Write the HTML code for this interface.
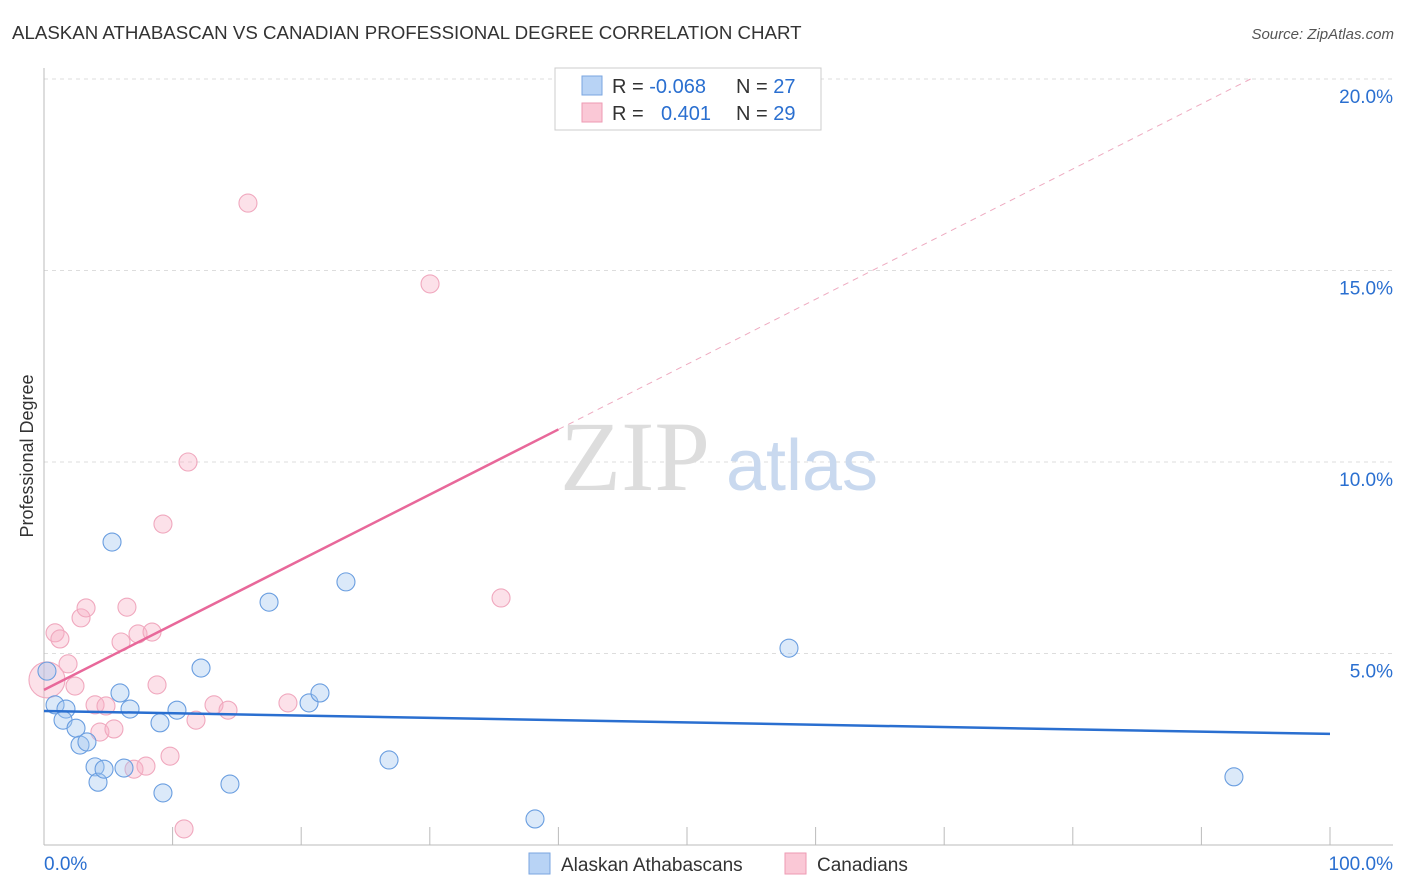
<!DOCTYPE html>
<html><head><meta charset="utf-8"><style>
body{margin:0;background:#fff;font-family:"Liberation Sans",sans-serif}
svg{display:block}
</style></head><body>
<svg width="1406" height="892" xmlns="http://www.w3.org/2000/svg">
<text x="12" y="39" font-size="18.7" fill="#333">ALASKAN ATHABASCAN VS CANADIAN PROFESSIONAL DEGREE CORRELATION CHART</text>
<text x="1394" y="39" font-size="15" fill="#555" font-style="italic" text-anchor="end">Source: ZipAtlas.com</text>
<text x="33" y="456" font-size="18" fill="#333" text-anchor="middle" transform="rotate(-90 33 456)">Professional Degree</text>
<g id="grid"></g>
<g id="axes"></g>
<text x="635" y="490" font-size="100" fill="#ddd" font-family="Liberation Serif,serif" text-anchor="middle">ZIP</text>
<text x="802" y="490" font-size="72" fill="#c9d9ef" text-anchor="middle">atlas</text>
<g id="pts"></g>
<g id="lines"></g>
<g>
<rect x="555" y="68" width="266" height="62" fill="#fff" stroke="#ccc"/>
<rect x="582" y="76" width="20" height="19" fill="#b8d3f5" stroke="#7aa6e0"/>
<rect x="582" y="103" width="20" height="19" fill="#fac8d6" stroke="#ee9ab3"/>
<text x="612" y="93" font-size="20" fill="#333">R = <tspan fill="#2a6fd0">-0.068</tspan></text>
<text x="736" y="93" font-size="20" fill="#333">N = <tspan fill="#2a6fd0">27</tspan></text>
<text x="612" y="120" font-size="20" fill="#333">R = <tspan fill="#2a6fd0" x="661">0.401</tspan></text>
<text x="736" y="120" font-size="20" fill="#333">N = <tspan fill="#2a6fd0">29</tspan></text>
</g>
<g>
<rect x="529" y="853" width="21" height="21" fill="#b8d3f5" stroke="#7aa6e0"/>
<text x="561" y="871" font-size="19" fill="#333">Alaskan Athabascans</text>
<rect x="785" y="853" width="21" height="21" fill="#fac8d6" stroke="#ee9ab3"/>
<text x="817" y="871" font-size="19" fill="#333">Canadians</text>
</g>
<text x="44" y="870" font-size="19" fill="#2a6fd0">0.0%</text>
<text x="1393" y="870" font-size="19" fill="#2a6fd0" text-anchor="end">100.0%</text>
</svg>
<script>
const yTicks=[5,10,15,20];
const yTickLabels=["5.0%","10.0%","15.0%","20.0%"];
const blueX=[0.23,0.86,1.71,1.48,2.49,2.80,3.34,3.97,4.20,4.67,5.29,5.91,6.22,6.69,9.02,9.25,10.34,12.21,14.46,17.50,20.61,21.46,23.48,26.83,38.18,57.93,92.53];
const blueY=[4.54,3.66,3.55,3.26,3.05,2.61,2.69,2.04,1.64,1.98,7.91,3.97,2.01,3.55,3.19,1.36,3.52,4.62,1.59,6.34,3.71,3.97,6.87,2.22,0.68,5.14,1.78];
const pinkX=[0.86,1.24,1.87,2.41,2.88,3.27,3.97,4.35,4.82,5.44,5.99,6.45,7.00,7.31,7.93,8.40,8.79,9.25,9.80,10.89,11.20,11.82,13.22,14.31,15.86,18.97,30.02,35.54,0.23];
const pinkY=[5.54,5.38,4.73,4.15,5.93,6.19,3.66,2.95,3.63,3.03,5.30,6.21,1.98,5.51,2.06,5.56,4.18,8.38,2.32,0.42,10.0,3.26,3.66,3.52,16.76,3.71,14.65,6.45,4.31];
const pinkR=[9,9,9,9,9,9,9,9,9,9,9,9,9,9,9,9,9,9,9,9,9,9,9,9,9,9,9,9,18];
const blueTrend=[3.50,2.90];
const pinkTrend=[4.05,0.17];
const NS="http://www.w3.org/2000/svg";
const X=v=>44+v*12.86, Y=v=>845-v*38.3;
function mk(t,a,p){const e=document.createElementNS(NS,t);for(const k in a)e.setAttribute(k,a[k]);p.appendChild(e);return e;}
const grid=document.getElementById('grid');
yTicks.forEach((t,i)=>{
 const l=mk('line',{x1:44,x2:1393,y1:Y(t),y2:Y(t),stroke:'#ddd','stroke-dasharray':'4,4'},grid);
 
 
 const tx=mk('text',{x:1393,y:Y(t)+24,'font-size':19,fill:'#2a6fd0','text-anchor':'end'},grid);
 tx.textContent=yTickLabels[i];
 
 
});
const ax=document.getElementById('axes');
const a1=mk('line',{x1:44,x2:44,y1:68,y2:845,stroke:'#bbb'},ax);


const a2=mk('line',{x1:44,x2:1393,y1:845,y2:845,stroke:'#bbb'},ax);


for(let i=0;i<=10;i++){const t=mk('line',{x1:X(i*10),x2:X(i*10),y1:827,y2:845,stroke:'#bbb'},ax);
 
 }
const pts=document.getElementById('pts');
pinkX.forEach((x,i)=>{const c=mk('circle',{cx:X(x),cy:Y(pinkY[i]),r:pinkR[i],fill:'rgba(247,175,197,0.38)',stroke:'#f0a8be','stroke-width':1.1},pts);
 
 });
blueX.forEach((x,i)=>{const c=mk('circle',{cx:X(x),cy:Y(blueY[i]),r:9,fill:'rgba(160,196,240,0.38)',stroke:'#6a9ee0','stroke-width':1.1},pts);
 
 });
const ln=document.getElementById('lines');
const b=mk('line',{x1:X(0),y1:Y(blueTrend[0]),x2:X(100),y2:Y(blueTrend[1]),stroke:'#2a6fd0','stroke-width':2.5},ln);


const pEnd=(20-pinkTrend[0])/pinkTrend[1];
const p1=mk('line',{x1:X(0),y1:Y(pinkTrend[0]),x2:X(40),y2:Y(pinkTrend[0]+40*pinkTrend[1]),stroke:'#e8689a','stroke-width':2.5},ln);


const p2=mk('line',{x1:X(40),y1:Y(pinkTrend[0]+40*pinkTrend[1]),x2:X(pEnd),y2:Y(20),stroke:'#eeaac0','stroke-width':1,'stroke-dasharray':'6,5'},ln);


</script>
</body></html>
